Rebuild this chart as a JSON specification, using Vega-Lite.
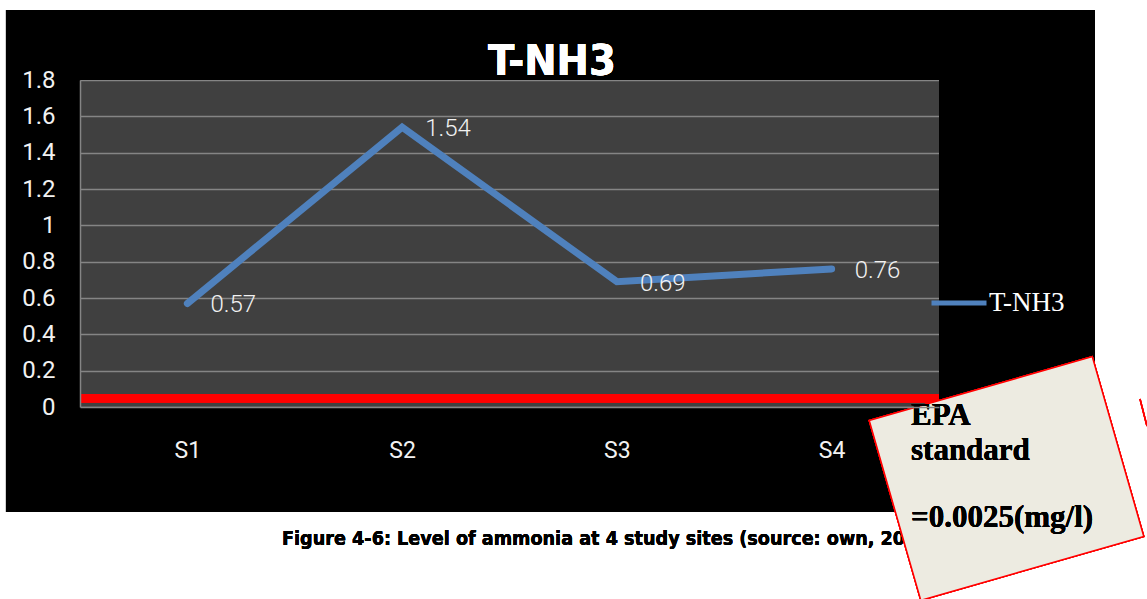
{
  "$schema": "https://vega.github.io/schema/vega-lite/v6.json",
  "width": 859,
  "height": 327,
  "autosize": {"type": "none"},
  "padding": {"left": 80, "top": 80, "right": 208, "bottom": 192},
  "background": "white",
  "data": {
    "values": [
      {"site": "S1", "value": 0.57},
      {"site": "S2", "value": 1.54},
      {"site": "S3", "value": 0.69},
      {"site": "S4", "value": 0.76}
    ]
  },
  "resolve": {"scale": {"x": "independent"}, "axis": {"y": "independent", "x": "independent"}},
  "layer": [
    {
      "mark": {"type": "rect", "color": "black"},
      "encoding": {
        "x": {"datum": -0.0862, "type": "quantitative", "scale": {"domain": [0, 1]}, "axis": null},
        "x2": {"datum": 1.1816},
        "y": {"datum": 1.8, "type": "quantitative", "scale": {"domain": [0, 1.8], "nice": false}, "axis": null},
        "y2": {"datum": 2.1853}
      }
    },
    {
      "mark": {"type": "rect", "color": "black"},
      "encoding": {
        "x": {"datum": -0.0862, "type": "quantitative", "scale": {"domain": [0, 1]}, "axis": null},
        "x2": {"datum": 1.1816},
        "y": {"datum": -0.578, "type": "quantitative", "scale": {"domain": [0, 1.8], "nice": false}, "axis": null},
        "y2": {"datum": 0}
      }
    },
    {
      "mark": {"type": "rect", "color": "black"},
      "encoding": {
        "x": {"datum": -0.0862, "type": "quantitative", "scale": {"domain": [0, 1]}, "axis": null},
        "x2": {"datum": 0},
        "y": {"datum": 0, "type": "quantitative", "scale": {"domain": [0, 1.8], "nice": false}, "axis": null},
        "y2": {"datum": 1.8}
      }
    },
    {
      "mark": {"type": "rect", "color": "black"},
      "encoding": {
        "x": {"datum": 1, "type": "quantitative", "scale": {"domain": [0, 1]}, "axis": null},
        "x2": {"datum": 1.1816},
        "y": {"datum": 0, "type": "quantitative", "scale": {"domain": [0, 1.8], "nice": false}, "axis": null},
        "y2": {"datum": 1.8}
      }
    },
    {
      "mark": {"type": "text", "text": "T-NH3", "align": "center", "baseline": "alphabetic", "font": "DejaVu Sans Condensed", "fontWeight": "bold", "fontSize": 43, "color": "white"},
      "encoding": {
        "x": {"datum": 0.5495, "type": "quantitative", "scale": {"domain": [0, 1]}, "axis": null},
        "y": {"datum": 1.8275, "type": "quantitative", "scale": {"domain": [0, 1.8], "nice": false}, "axis": null}
      }
    },
    {
      "mark": {"type": "rule", "color": "#FF0000", "strokeWidth": 8.5},
      "encoding": {
        "y": {"datum": 0.048, "type": "quantitative", "scale": {"domain": [0, 1.8], "nice": false}, "axis": null}
      }
    },
    {
      "mark": {"type": "line", "strokeWidth": 7, "strokeCap": "round", "strokeJoin": "miter"},
      "encoding": {
        "x": {
          "field": "site",
          "type": "nominal",
          "sort": null,
          "axis": {
            "title": null,
            "labelAngle": 0,
            "labelFont": "Roboto",
            "labelFontSize": 23,
            "labelColor": "#f2f2f2",
            "labelPadding": 32,
            "ticks": false,
            "domain": true,
            "domainColor": "#858585",
            "domainWidth": 1.5,
            "grid": false,
            "zindex": 1
          }
        },
        "y": {
          "field": "value",
          "type": "quantitative",
          "scale": {"domain": [0, 1.8], "nice": false},
          "axis": {
            "title": null,
            "values": [0, 0.2, 0.4, 0.6, 0.8, 1, 1.2, 1.4, 1.6, 1.8],
            "grid": true,
            "gridColor": "#858585",
            "gridWidth": 1.3,
            "labels": false,
            "ticks": false,
            "domain": false,
            "zindex": 0
          }
        },
        "color": {
          "datum": "T-NH3",
          "type": "nominal",
          "scale": {"range": ["#4F81BD"]},
          "legend": {
            "title": null,
            "orient": "none",
            "legendX": 849,
            "legendY": 193,
            "padding": 0,
            "symbolType": "stroke",
            "symbolSize": 3025,
            "symbolStrokeWidth": 5,
            "labelFont": "Liberation Serif",
            "labelFontSize": 27,
            "labelColor": "#ffffff",
            "labelOffset": 0
          }
        }
      }
    },
    {
      "mark": {"type": "text", "align": "left", "baseline": "middle", "dx": 23, "dy": 2, "font": "Roboto", "fontWeight": 300, "fontSize": 24, "color": "#f2f2f2"},
      "encoding": {
        "x": {"field": "site", "type": "nominal", "sort": null, "axis": null},
        "y": {
          "field": "value",
          "type": "quantitative",
          "scale": {"domain": [0, 1.8], "nice": false},
          "axis": {
            "title": null,
            "orient": "left",
            "values": [0, 0.2, 0.4, 0.6, 0.8, 1, 1.2, 1.4, 1.6, 1.8],
            "format": "~g",
            "grid": false,
            "ticks": false,
            "labelFont": "Roboto",
            "labelFontSize": 24,
            "labelColor": "#f2f2f2",
            "labelPadding": 25,
            "domain": true,
            "domainColor": "#858585",
            "domainWidth": 1.5,
            "zindex": 1
          }
        },
        "text": {"field": "value", "type": "quantitative", "format": ".2f"}
      }
    },
    {
      "mark": {"type": "text", "text": "Figure 4-6: Level of ammonia at 4 study sites (source: own, 20", "align": "left", "baseline": "alphabetic", "font": "DejaVu Sans Condensed", "fontWeight": "bold", "fontSize": 19.6, "color": "black"},
      "encoding": {
        "x": {"datum": 0.2352, "type": "quantitative", "scale": {"domain": [0, 1]}, "axis": null},
        "y": {"datum": -0.7596, "type": "quantitative", "scale": {"domain": [0, 1.8], "nice": false}, "axis": null}
      }
    },
    {
      "mark": {"type": "point", "shape": "M-1,-0.806L1,-0.806L1,0.806L-1,0.806Z", "size": 53824, "angle": -16, "filled": true, "fill": "#EDEBE1", "opacity": 1, "stroke": "#FF0000", "strokeWidth": 1.5},
      "encoding": {
        "x": {"datum": 1.0786, "type": "quantitative", "scale": {"domain": [0, 1]}, "axis": null},
        "y": {"datum": -0.3936, "type": "quantitative", "scale": {"domain": [0, 1.8], "nice": false}, "axis": null}
      }
    },
    {
      "mark": {"type": "text", "text": ["EPA", "standard"], "lineHeight": 35, "align": "left", "baseline": "alphabetic", "font": "Liberation Serif", "fontWeight": "bold", "fontSize": 31, "color": "black"},
      "encoding": {
        "x": {"datum": 0.9674, "type": "quantitative", "scale": {"domain": [0, 1]}, "axis": null},
        "y": {"datum": -0.0991, "type": "quantitative", "scale": {"domain": [0, 1.8], "nice": false}, "axis": null}
      }
    },
    {
      "mark": {"type": "text", "text": "=0.0025(mg/l)", "align": "left", "baseline": "alphabetic", "font": "Liberation Serif", "fontWeight": "bold", "fontSize": 31, "color": "black"},
      "encoding": {
        "x": {"datum": 0.9674, "type": "quantitative", "scale": {"domain": [0, 1]}, "axis": null},
        "y": {"datum": -0.6606, "type": "quantitative", "scale": {"domain": [0, 1.8], "nice": false}, "axis": null}
      }
    },
    {
      "mark": {"type": "rule", "color": "#FF0000", "strokeWidth": 1.5},
      "encoding": {
        "x": {"datum": 1.234, "type": "quantitative", "scale": {"domain": [0, 1]}, "axis": null},
        "x2": {"datum": 1.2421},
        "y": {"datum": 0.044, "type": "quantitative", "scale": {"domain": [0, 1.8], "nice": false}, "axis": null},
        "y2": {"datum": -0.1046}
      }
    }
  ],
  "config": {
    "view": {"fill": "#404040", "stroke": null}
  }
}
